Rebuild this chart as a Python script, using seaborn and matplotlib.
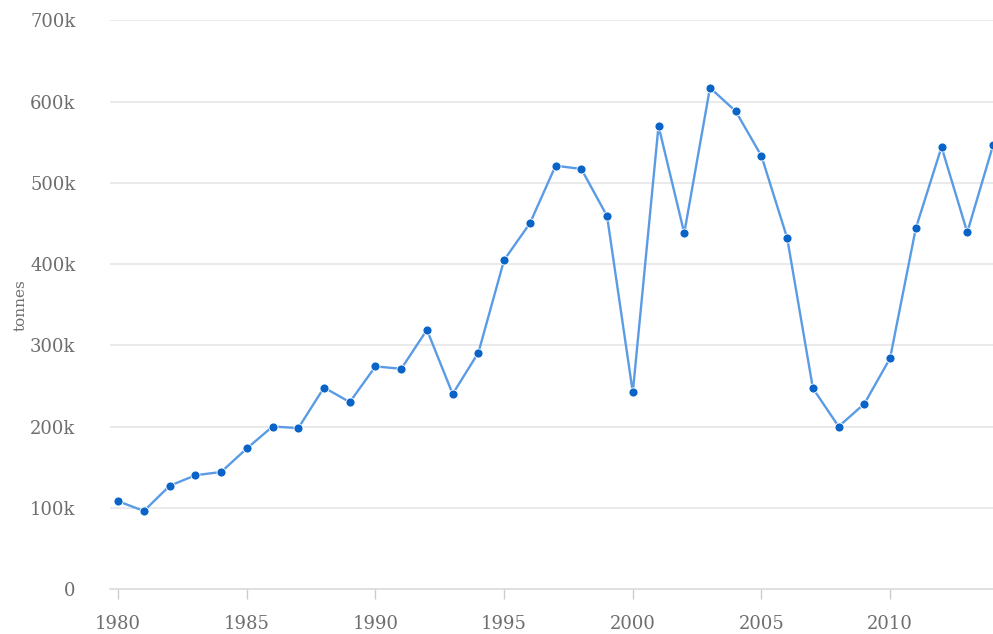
import matplotlib
matplotlib.use("Agg")
import matplotlib.pyplot as plt
import matplotlib.ticker as mticker
import pandas as pd
import seaborn as sns

years = list(range(1980, 2015))
tonnes = [108000, 96000, 127000, 140000, 144000, 173000, 200000, 198000, 248000, 230000,
          274000, 271000, 319000, 240000, 291000, 405000, 450000, 521000, 517000, 459000,
          242000, 570000, 438000, 617000, 588000, 533000, 432000, 247000, 200000, 228000,
          284000, 444000, 544000, 439000, 546000]

df = pd.DataFrame({"year": years, "tonnes": tonnes})

sns.set_style("white")
plt.rcParams["font.family"] = ["DejaVu Serif"]

fig = plt.figure(figsize=(9.93, 6.34), dpi=100)
ax = fig.add_axes([0.111, 0.071, 0.889, 0.897])

sns.lineplot(data=df, x="year", y="tonnes", ax=ax, color="#5a9be6", linewidth=1.7,
             marker="o", markersize=6.5, markerfacecolor="#0a64c8",
             markeredgecolor="white", markeredgewidth=0.6)

ax.set_xlim(1979.69, 2014.0)
ax.set_ylim(0, 700000)
ax.set_yticks(range(0, 700001, 100000))
ax.yaxis.set_major_formatter(mticker.FuncFormatter(lambda v, p: "0" if v == 0 else f"{int(v/1000)}k"))
ax.set_xticks(range(1980, 2011, 5))

ax.grid(axis="y", color="#e6e6e6", linewidth=1.2)
ax.grid(axis="x", visible=False)
for s in ["top", "right", "left"]:
    ax.spines[s].set_visible(False)
ax.spines["bottom"].set_color("#dcdcdc")
ax.spines["bottom"].set_linewidth(1.2)

ax.tick_params(axis="y", length=0, pad=25, labelsize=13, labelcolor="#6e6e6e")
ax.tick_params(axis="x", length=7, width=1, color="#cccccc", pad=12, labelsize=13,
               labelcolor="#6e6e6e", direction="out", bottom=True)

ax.set_xlabel("")
ax.set_ylabel("tonnes", fontsize=11, color="#6e6e6e", labelpad=2)

fig.savefig("out.png", dpi=100)
